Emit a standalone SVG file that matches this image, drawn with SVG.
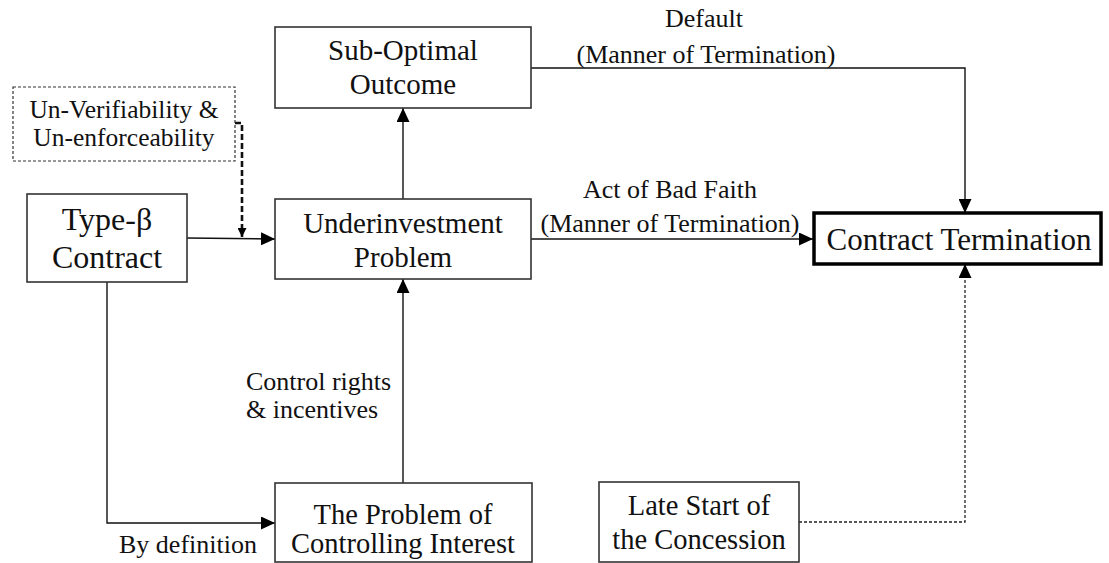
<svg xmlns="http://www.w3.org/2000/svg" width="1109" height="563" viewBox="0 0 1109 563" font-family="Liberation Serif, Times New Roman, DejaVu Serif, serif">
<defs>
<marker id="ah" markerUnits="userSpaceOnUse" markerWidth="14" markerHeight="13" refX="14" refY="6.5" orient="auto"><path d="M0,0 L14,6.5 L0,13 z" fill="#000"/></marker>
<marker id="ahs" markerUnits="userSpaceOnUse" markerWidth="9" markerHeight="9" refX="9" refY="4.5" orient="auto"><path d="M0,0 L9,4.5 L0,9 z" fill="#000"/></marker>
<style>
.box{fill:#fff;stroke:#333;stroke-width:1.6}
.dbox{fill:#fff;stroke:#333;stroke-width:1.2;stroke-dasharray:3 2}
.bold{fill:#fff;stroke:#000;stroke-width:3.5}
.t{fill:#111;text-anchor:middle}
.n{font-size:29px}
.l{font-size:26px}
.c{fill:none;stroke:#111;stroke-width:1.4}
.cd{fill:none;stroke:#222;stroke-width:1.3;stroke-dasharray:3 2}
.cdt{fill:none;stroke:#111;stroke-width:2.6;stroke-dasharray:6 3}
</style>
</defs>
<g id="connectors">
<path class="c" d="M187,238 L275,239" marker-end="url(#ah)"/>
<path class="cdt" d="M235,123 L242,123 L242,237" marker-end="url(#ahs)"/>
<path class="c" d="M403,199 L403,108" marker-end="url(#ah)"/>
<path class="c" d="M531,68 L965,68 L965,213" marker-end="url(#ah)"/>
<path class="c" d="M531,239 L813,239" marker-end="url(#ah)"/>
<path class="c" d="M403,483 L403,279" marker-end="url(#ah)"/>
<path class="c" d="M107,282 L107,523 L275,523" marker-end="url(#ah)"/>
<path class="cd" d="M799,522 L965,522 L965,264" marker-end="url(#ah)"/>
<text class="t l" x="704" y="27">Default</text>
<text class="t l" x="706" y="63">(Manner of Termination)</text>
<text class="t l" x="670" y="198">Act of Bad Faith</text>
<text class="t l" x="670" y="232">(Manner of Termination)</text>
<text class="t l" x="246" y="390" style="text-anchor:start">Control rights</text>
<text class="t l" x="246" y="418" style="text-anchor:start">&amp; incentives</text>
<text class="t l" x="188" y="553">By definition</text>
</g>
<g id="unverifiability">
<rect class="dbox" x="13" y="87" width="222" height="74"/>
<text class="t" font-size="25.5" x="124" y="118">Un-Verifiability &amp;</text>
<text class="t" font-size="25.5" x="124" y="146">Un-enforceability</text>
</g>
<g id="type-beta">
<rect class="box" x="27" y="194" width="160" height="88"/>
<text class="t" font-size="32" x="107" y="230">Type-β</text>
<text class="t" font-size="32" x="107" y="268">Contract</text>
</g>
<g id="suboptimal">
<rect class="box" x="275" y="27" width="256" height="81"/>
<text class="t n" x="403" y="60">Sub-Optimal</text>
<text class="t n" x="403" y="94">Outcome</text>
</g>
<g id="underinvestment">
<rect class="box" x="275" y="199" width="256" height="80"/>
<text class="t n" x="403" y="233">Underinvestment</text>
<text class="t n" x="403" y="267">Problem</text>
</g>
<g id="contract-termination">
<rect class="bold" x="814" y="213" width="287" height="51"/>
<text class="t" font-size="31" x="959" y="250">Contract Termination</text>
</g>
<g id="controlling-interest">
<rect class="box" x="275" y="483" width="257" height="79"/>
<text class="t" font-size="28.5" x="403" y="524">The Problem of</text>
<text class="t" font-size="28.5" x="403" y="553">Controlling Interest</text>
</g>
<g id="late-start">
<rect class="box" x="599" y="482" width="200" height="80"/>
<text class="t" font-size="28.5" x="699" y="515">Late Start of</text>
<text class="t" font-size="28.5" x="699" y="549">the Concession</text>
</g>
</svg>
